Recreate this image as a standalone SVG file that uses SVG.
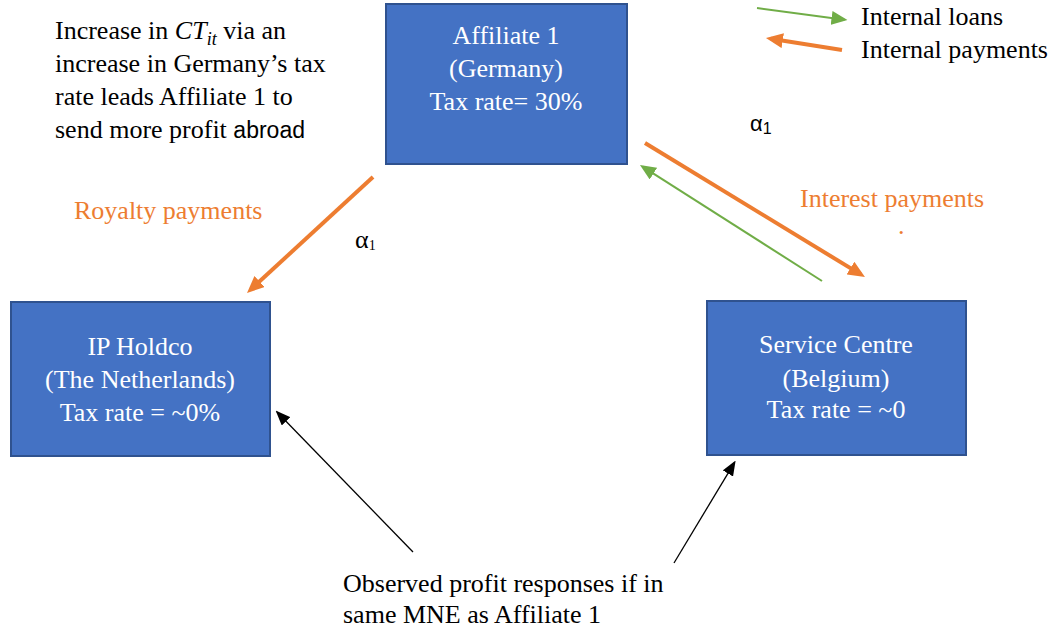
<svg xmlns="http://www.w3.org/2000/svg" width="1057" height="634" viewBox="0 0 1057 634">
<style>
.box{fill:#4472C4;stroke:#2F528F;stroke-width:2}
.bt{font-family:"Liberation Serif","Times New Roman",serif;font-size:26px;fill:#fff;text-anchor:middle}
.t{font-family:"Liberation Serif","Times New Roman",serif;font-size:26px;fill:#000}
.or{fill:#ED7D31}
.sans{font-family:"Liberation Sans",Arial,sans-serif}
.lo{stroke:#ED7D31;stroke-width:4;fill:none}
.lg{stroke:#70AD47;stroke-width:2;fill:none}
.lb{stroke:#000;stroke-width:1.3;fill:none}
</style>
<defs>
<marker id="ao" markerUnits="userSpaceOnUse" markerWidth="17" markerHeight="15" refX="12" refY="7.5" orient="auto"><path d="M0,0 L17,7.5 L0,15 z" fill="#ED7D31"/></marker>
<marker id="ag" markerUnits="userSpaceOnUse" markerWidth="16" markerHeight="14" refX="13" refY="7" orient="auto"><path d="M0,0 L16,7 L0,14 z" fill="#70AD47"/></marker>
<marker id="ab" markerUnits="userSpaceOnUse" markerWidth="15" markerHeight="12" refX="13" refY="6" orient="auto"><path d="M0,0 L15,6 L0,12 z" fill="#000"/></marker>
</defs>

<g id="connectors">
<line class="lo" x1="373" y1="177" x2="250.7" y2="289.6" marker-end="url(#ao)"/>
<line class="lo" x1="645" y1="143" x2="860.7" y2="274.4" marker-end="url(#ao)"/>
<line class="lg" x1="822" y1="281" x2="642.5" y2="166.6" marker-end="url(#ag)"/>
<line class="lb" x1="413" y1="552" x2="277" y2="412" marker-end="url(#ab)"/>
<line class="lb" x1="674" y1="563" x2="734.6" y2="462.3" marker-end="url(#ab)"/>
</g>

<g id="legend">
<line class="lg" x1="757" y1="8" x2="844.5" y2="19.7" marker-end="url(#ag)"/>
<line class="lo" x1="842" y1="50" x2="770.9" y2="38.8" marker-end="url(#ao)"/>
<text class="t" x="861" y="25">Internal loans</text>
<text class="t" x="861" y="58">Internal payments</text>
</g>

<g id="affiliate1">
<rect class="box" x="386" y="4" width="241" height="160"/>
<text class="bt" x="506" y="44">Affiliate 1</text>
<text class="bt" x="506" y="77">(Germany)</text>
<text class="bt" x="506" y="110">Tax rate= 30%</text>
</g>

<g id="ipholdco">
<rect class="box" x="11" y="302" width="259" height="154"/>
<text class="bt" x="140" y="355">IP Holdco</text>
<text class="bt" x="140" y="388">(The Netherlands)</text>
<text class="bt" x="140" y="421">Tax rate = ~0%</text>
</g>

<g id="servicecentre">
<rect class="box" x="707" y="301" width="259" height="154"/>
<text class="bt" x="836" y="353">Service Centre</text>
<text class="bt" x="836" y="387">(Belgium)</text>
<text class="bt" x="836" y="418">Tax rate = ~0</text>
</g>

<g id="annotation-top">
<text class="t" x="55" y="39">Increase in <tspan font-style="italic">CT</tspan><tspan font-style="italic" font-size="18" dy="6">it</tspan><tspan dy="-6"> via an</tspan></text>
<text class="t" x="55" y="72">increase in Germany’s tax</text>
<text class="t" x="55" y="105">rate leads Affiliate 1 to</text>
<text class="t" x="55" y="138">send more profit <tspan class="sans" font-size="23">abroad</tspan></text>
</g>

<g id="labels">
<text class="t or" x="74" y="219">Royalty payments</text>
<text class="t" x="355" y="248" font-size="20">α<tspan font-size="14" dy="2">1</tspan></text>
<text class="sans" x="750" y="131" font-size="22" fill="#000">α<tspan font-size="16" dy="3">1</tspan></text>
<text class="t or" x="800" y="207">Interest payments</text>
<text class="t or" x="898" y="234" font-size="9">.</text>
</g>

<g id="annotation-bottom">
<text class="t" x="343" y="592">Observed profit responses if in</text>
<text class="t" x="343" y="623">same MNE as Affiliate 1</text>
</g>
</svg>
